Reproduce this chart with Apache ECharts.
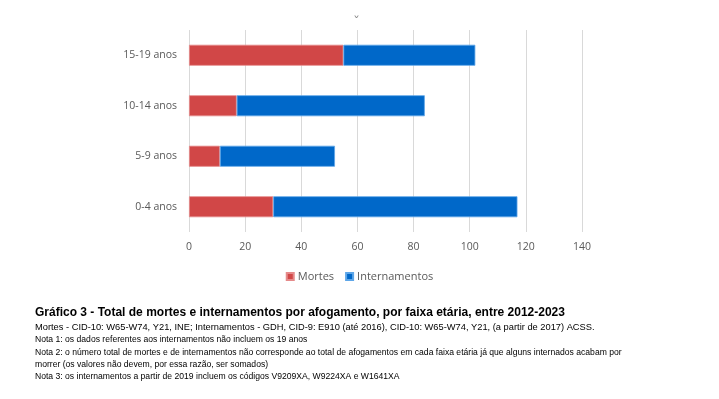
<!DOCTYPE html>
<html><head><meta charset="utf-8">
<script src="https://cdn.jsdelivr.net/npm/echarts@6/dist/echarts.min.js"></script>
<style>html,body{margin:0;padding:0;background:#fff}#c{width:719px;height:399px}</style>
</head><body><div id="c"></div>
<script>
const categories = ['0-4 anos', '5-9 anos', '10-14 anos', '15-19 anos'];
const mortes = [30, 11, 17, 55];
const internamentos = [87, 41, 67, 47];
const xTicks = [0, 20, 40, 60, 80, 100, 120, 140];
const seriesNames = ['Mortes', 'Internamentos'];
const captionTitle = 'Gráfico 3 - Total de mortes e internamentos por afogamento, por faixa etária, entre 2012-2023';
const captionLines = [
  'Mortes - CID-10: W65-W74, Y21, INE; Internamentos - GDH, CID-9: E910 (até 2016), CID-10: W65-W74, Y21, (a partir de 2017) ACSS.',
  'Nota 1: os dados referentes aos internamentos não incluem os 19 anos',
  'Nota 2: o número total de mortes e de internamentos não corresponde ao total de afogamentos em cada faixa etária já que alguns internados acabam por',
  'morrer (os valores não devem, por essa razão, ser somados)',
  'Nota 3: os internamentos a partir de 2019 incluem os códigos V9209XA, W9224XA e W1641XA'
];

const chart = echarts.init(document.getElementById('c'), null, {renderer: 'canvas'});
const axisFont = {fontFamily: 'Open Sans', fontSize: 10.5, color: '#595959'};
const lineY = [327, 340, 352.5, 365, 377];
const lineSize = [9.3, 8.6, 8.6, 8.6, 8.6];
chart.setOption({
  animation: false,
  backgroundColor: '#fff',
  grid: {left: 189, right: 137, top: 30, bottom: 167, containLabel: false},
  xAxis: {
    type: 'value', min: xTicks[0], max: xTicks[xTicks.length - 1], interval: 20,
    axisLine: {show: false}, axisTick: {show: false},
    splitLine: {lineStyle: {color: '#d9d9d9', width: 1}},
    axisLabel: Object.assign({margin: 10}, axisFont)
  },
  yAxis: {
    type: 'category', data: categories,
    axisLine: {show: false}, axisTick: {show: false},
    axisLabel: Object.assign({margin: 12}, axisFont)
  },
  legend: {
    data: seriesNames, top: 266, left: 'center', icon: 'rect',
    itemWidth: 7, itemHeight: 7, itemGap: 11,
    textStyle: {fontFamily: 'Open Sans', fontSize: 11, color: '#595959', padding: [0, 0, 0, -1]}
  },
  series: [
    {name: seriesNames[0], type: 'bar', stack: 't', data: mortes, barWidth: 21,
     itemStyle: {color: '#d14747', borderColor: '#e58a8a', borderWidth: 0.8}},
    {name: seriesNames[1], type: 'bar', stack: 't', data: internamentos, barWidth: 21,
     itemStyle: {color: '#0068c9', borderColor: '#5ea6e8', borderWidth: 0.8}}
  ],
  graphic: [
    {type: 'text', left: 353, top: 16, style: {text: 'ˇ', fontSize: 14, fill: '#8a8a8a', fontFamily: 'DejaVu Sans'}},
    {type: 'text', x: 35, y: 313, style: {text: captionTitle, fontFamily: 'Liberation Sans', fontWeight: 'bold', fontSize: 12, fill: '#000', verticalAlign: 'middle'}}
  ].concat(captionLines.map((t, i) => ({
    type: 'text', x: 35, y: lineY[i],
    style: {text: t, fontFamily: 'Liberation Sans', fontSize: lineSize[i], fill: '#000', verticalAlign: 'middle'}
  })))
});
</script></body></html>
